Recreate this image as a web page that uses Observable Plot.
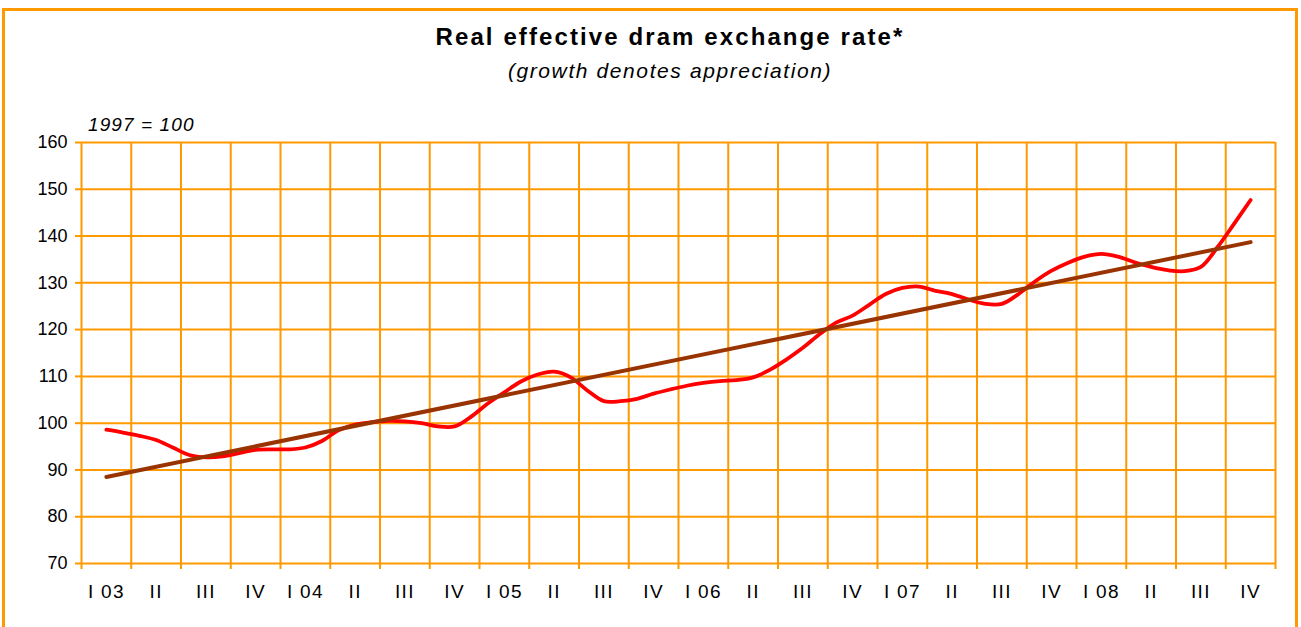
<!DOCTYPE html>
<html><head><meta charset="utf-8">
<script src="https://cdn.jsdelivr.net/npm/d3@7"></script>
<script src="https://cdn.jsdelivr.net/npm/@observablehq/plot@0.6"></script>
<style>
body{margin:0;background:#fff;font-family:"Liberation Sans",Arial,sans-serif;}
#wrap{position:relative;width:1301px;height:627px;overflow:hidden;background:#fff;}
#frame{position:absolute;left:2px;top:8px;width:1296px;height:700px;border:3px solid #FF9900;box-sizing:border-box;}
.t{position:absolute;left:370px;width:600px;text-align:center;color:#000;line-height:1;white-space:nowrap;}
#title{top:25px;font-size:24px;font-weight:bold;letter-spacing:2.1px;}
#sub{top:60px;font-size:21px;font-style:italic;letter-spacing:1.6px;}
#unit{position:absolute;left:88px;top:115px;font-size:19px;font-style:italic;line-height:1;letter-spacing:1.1px;}
#chart{position:absolute;left:0;top:110px;}
#chart g[aria-label="x-axis tick label"] text{letter-spacing:1.3px;}
</style></head>
<body>
<div id="wrap">
  <div id="frame"></div>
  <div class="t" id="title">Real effective dram exchange rate*</div>
  <div class="t" id="sub">(growth denotes appreciation)</div>
  <div id="unit">1997 = 100</div>
  <div id="chart"></div>
</div>
<script>
const quarterLabels = ["I 03","II","III","IV","I 04","II","III","IV","I 05","II","III","IV",
  "I 06","II","III","IV","I 07","II","III","IV","I 08","II","III","IV"];
// monthly values, Jan 2003 ... Oct 2008 (1997 = 100)
const reerMonthly = [
  98.6, 98.0, 97.3, 96.4, 94.8, 93.2, 92.7, 92.9, 93.6, 94.3, 94.4, 94.4,
  94.8, 96.2, 98.5, 99.7, 100.2, 100.5, 100.4, 100.0, 99.3, 99.3, 101.4, 104.2,
  106.6, 108.9, 110.4, 111.0, 109.8, 107.0, 104.7, 104.7, 105.2, 106.3, 107.2, 108.0,
  108.6, 109.0, 109.2, 109.8, 111.4, 113.6, 116.1, 119.0, 121.5, 123.0, 125.3, 127.6,
  128.9, 129.2, 128.3, 127.6, 126.4, 125.5, 125.5, 127.6, 130.3, 132.6, 134.3, 135.6,
  136.2, 135.6, 134.4, 133.4, 132.7, 132.5, 133.4, 137.6, 142.6, 147.7
];
const trendStart = 88.5;
const trendEnd = 138.7;
const yTicks = [70, 80, 90, 100, 110, 120, 130, 140, 150, 160];

const orange = "#FF9900";
const nQ = quarterLabels.length;
const boundaries = d3.range(nQ + 1).map(k => k - 0.5);
const centers = d3.range(nQ);
const reer = reerMonthly.map((v, i) => ({t: i / 3, v}));
const trend = [{t: 0, v: trendStart}, {t: (reerMonthly.length - 1) / 3, v: trendEnd}];

const chart = Plot.plot({
  width: 1301,
  height: 517,
  marginTop: 32,
  marginBottom: 64,
  marginLeft: 81,
  marginRight: 26,
  style: {fontFamily: "'Liberation Sans', Arial, sans-serif", background: "transparent", color: "#000"},
  x: {type: "linear", domain: [-0.5, nQ - 0.5]},
  y: {domain: [70, 160]},
  marks: [
    Plot.ruleY(yTicks, {stroke: orange, strokeWidth: 2}),
    Plot.ruleX(boundaries, {stroke: orange, strokeWidth: 2}),
    Plot.axisY({ticks: yTicks, tickSize: 6, tickPadding: 8, stroke: orange, strokeWidth: 2, strokeOpacity: 1, fontSize: 18, fill: "#000", label: null}),
    Plot.axisX({ticks: boundaries, tickSize: 6, tickFormat: () => "", stroke: orange, strokeWidth: 2, strokeOpacity: 1, label: null}),
    Plot.axisX({ticks: centers, tickSize: 0, tickPadding: 21, tickFormat: i => quarterLabels[i], fontSize: 19, fill: "#000", label: null}),
    Plot.line(reer, {x: "t", y: "v", curve: "catmull-rom", stroke: "#FF0000", strokeWidth: 3.8}),
    Plot.line(trend, {x: "t", y: "v", stroke: "#993300", strokeWidth: 4})
  ]
});
document.getElementById("chart").appendChild(chart);
</script>
</body></html>
